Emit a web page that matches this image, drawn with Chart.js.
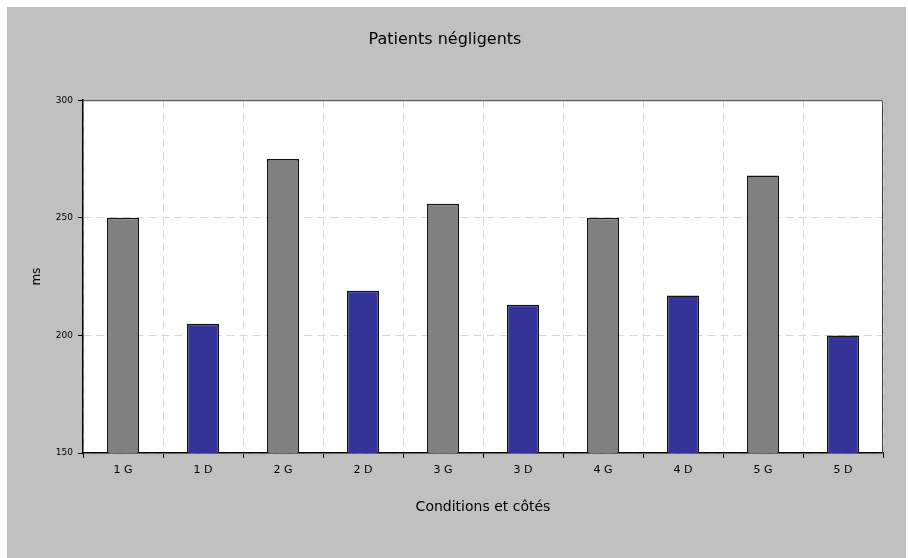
<!DOCTYPE html>
<html>
<head>
<meta charset="utf-8">
<script src="https://cdn.jsdelivr.net/npm/chart.js@4/dist/chart.umd.min.js"></script>
<style>
    body { margin: 0; background: #ffffff; }
    #wrap { position: absolute; left: 7px; top: 7px; width: 899px; height: 551px; background: #c0c0c0; }
</style>
</head>
<body>
<div id="wrap"><canvas id="negligentChart"></canvas></div>
<script>
// conditions (1..5) and side (G = gauche, D = droit)
const categories = ['1 G', '1 D', '2 G', '2 D', '3 G', '3 D', '4 G', '4 D', '5 G', '5 D'];
const msValues = [250, 205, 275, 219, 256, 213, 250, 217, 268, 200];
const yTicks = [150, 200, 250, 300];

const FONT = '"Comic Sans MS", "DejaVu Sans", sans-serif';

// white plot area with a thin frame, like the old spreadsheet chart
const plotFrame = {
    id: 'plotFrame',
    beforeDraw(chart) {
        const { ctx, chartArea: a } = chart;
        ctx.save();
        ctx.fillStyle = '#ffffff';
        ctx.fillRect(a.left, a.top, a.right - a.left, a.bottom - a.top);
        ctx.restore();
    },
    afterDatasetsDraw(chart) {
        const { ctx, chartArea: a } = chart;
        ctx.save();
        ctx.strokeStyle = '#404040';
        ctx.lineWidth = 1;
        ctx.beginPath();
        ctx.moveTo(a.left, a.top + 0.5);
        ctx.lineTo(a.right - 0.5, a.top + 0.5);
        ctx.lineTo(a.right - 0.5, a.bottom);
        ctx.stroke();
        ctx.restore();
    }
};

var ctx = document.getElementById('negligentChart').getContext('2d');
var chart = new Chart(ctx, {
    type: 'bar',
    data: {
        labels: categories,
        datasets: [{
            data: msValues,
            backgroundColor: categories.map(c => c.endsWith('G') ? '#808080' : '#333399'),
            borderColor: '#111111',
            borderWidth: 1.5,
            barPercentage: 0.4,
            categoryPercentage: 1.0
        }]
    },
    options: {
        responsive: true,
        maintainAspectRatio: false,
        animation: false,
        layout: { padding: { left: 0, right: 23, top: 0, bottom: 35 } },
        plugins: {
            legend: { display: false },
            tooltip: { enabled: false },
            title: {
                display: true,
                text: 'Patients négligents',
                color: '#000000',
                font: { family: FONT, size: 16, weight: 'normal' },
                padding: { top: 23, bottom: 51 }
            }
        },
        scales: {
            x: {
                grid: {
                    offset: true,
                    color: '#d6d6d6',
                    tickColor: '#000000',
                    tickLength: 5,
                    tickBorderDash: []
                },
                border: { color: '#000000', width: 1.5, dash: [8, 5] },
                ticks: {
                    color: '#000000',
                    padding: 6,
                    font: { family: FONT, size: 11 }
                },
                title: {
                    display: true,
                    text: 'Conditions et côtés',
                    color: '#000000',
                    font: { family: FONT, size: 14 },
                    padding: { top: 0, bottom: 7 }
                },
                afterFit(scale) { scale.height = 70; }
            },
            y: {
                min: 150,
                max: 300,
                afterBuildTicks(scale) { scale.ticks = yTicks.map(v => ({ value: v })); },
                grid: {
                    color: '#d6d6d6',
                    tickColor: '#000000',
                    tickLength: 5,
                    tickBorderDash: []
                },
                border: { color: '#000000', width: 1.5, dash: [8, 5] },
                ticks: {
                    color: '#000000',
                    padding: 5,
                    font: { family: '"DejaVu Sans", sans-serif', size: 9 }
                },
                title: {
                    display: true,
                    text: 'ms',
                    color: '#000000',
                    font: { family: FONT, size: 12 },
                    padding: { top: 23, bottom: 0 }
                },
                afterFit(scale) { scale.width = 76; }
            }
        }
    },
    plugins: [plotFrame]
});
</script>
</body>
</html>
